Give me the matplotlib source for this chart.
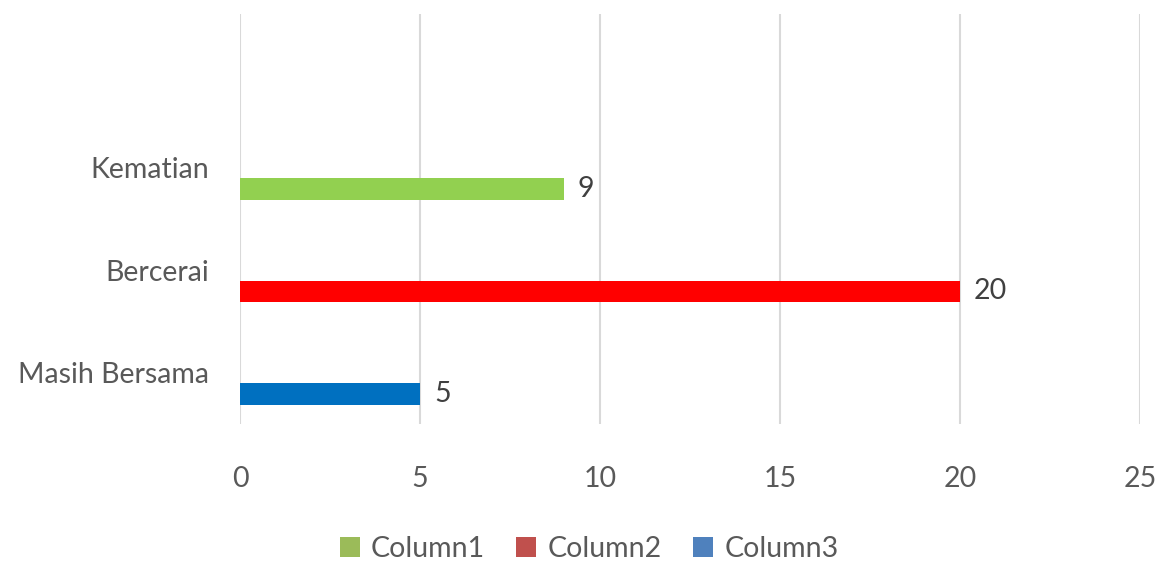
import numpy as np
import matplotlib.pyplot as plt
from matplotlib.patches import Patch

categories = ["Masih Bersama", "Bercerai", "Kematian", ""]
values = [5, 20, 9, 0]
bar_colors = ["#0070C0", "#FF0000", "#92D050", "#FFFFFF"]
series = ["Column1", "Column2", "Column3"]
series_colors = ["#9BBB59", "#C0504D", "#4F81BD"]
xticks = [0, 5, 10, 15, 20, 25]

plt.rcParams['font.family'] = ['Lato', 'DejaVu Sans']

fig = plt.figure(figsize=(11.6, 5.63), dpi=100)
ax = fig.add_axes([240 / 1160, 1 - 424 / 563, 900 / 1160, 410 / 563])

y = np.arange(len(categories))
offset = -0.205
ax.barh(y[:3] + offset, values[:3], height=0.21, color=bar_colors[:3], zorder=3)

for yi, v in zip(y[:3], values[:3]):
    ax.annotate(str(v), (v, yi + offset), xytext=(10, 0), textcoords="offset points",
                ha="left", va="center", fontsize=20.5, color="#404040")

ax.set_xlim(0, 25)
ax.set_ylim(-0.5, len(categories) - 0.5)
ax.set_xticks(xticks)
ax.set_yticks(y)
ax.set_yticklabels(categories)
ax.xaxis.grid(True, color="#D9D9D9", linewidth=1.5, zorder=0)
ax.tick_params(axis="both", length=0, labelsize=20.5, colors="#595959")
ax.tick_params(axis="x", pad=30)
ax.tick_params(axis="y", pad=22)
for s in ax.spines.values():
    s.set_visible(False)

handles = [Patch(facecolor=c, label=s) for s, c in zip(series, series_colors)]
fig.legend(handles=handles, loc="center", bbox_to_anchor=(0.508, 1 - 549 / 563), ncol=3,
           frameon=False, fontsize=20.5, labelcolor="#595959", handlelength=0.7,
           handleheight=0.7, handletextpad=0.4, columnspacing=1.1)

fig.savefig("out.png", dpi=100)
